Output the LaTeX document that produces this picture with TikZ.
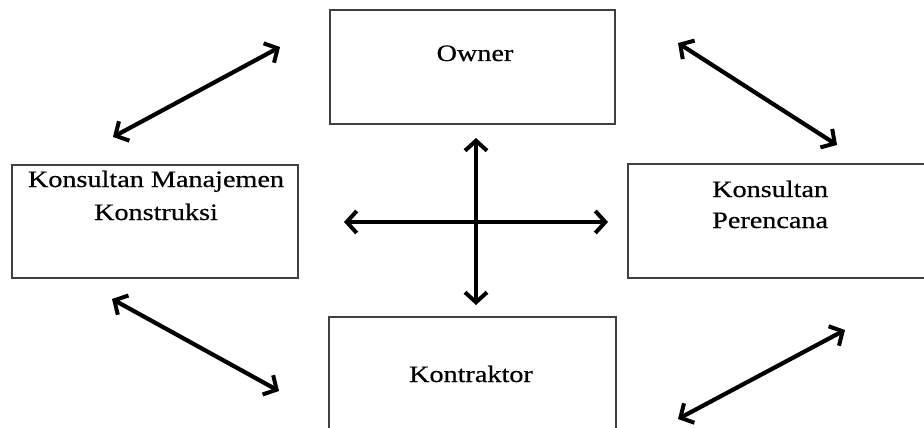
\documentclass[tikz,border=0pt]{standalone}
\usepackage{fontspec}
\setmainfont[FakeStretch=1.2,FakeBold=0.6]{Liberation Serif}
\usetikzlibrary{arrows.meta}
\begin{document}
\begin{tikzpicture}[x=1pt,y=-1pt,
  box/.style={draw=black!75,line width=1.8pt},
  lbl/.style={inner sep=0pt,anchor=base,font=\fontsize{23.5}{31}\selectfont},
  tip/.style={Straight Barb[length=10pt,width=22pt,line width=4pt]},
  dbl/.style={line width=4.2pt,{Straight Barb[length=10pt,width=22pt,line width=4pt]}-{Straight Barb[length=10pt,width=22pt,line width=4pt]}}]
\useasboundingbox (0,0) rectangle (924,428);
\fill[white] (0,0) rectangle (924,428);
% boxes
\draw[box] (330,10) rectangle (615,124);
\draw[box] (12,165) rectangle (298,278);
\draw[box] (628,164) rectangle (930,278);
\draw[box] (329,317) rectangle (616,440);
% labels
\node[lbl] (owner) at (475,61) {Owner};
\node[lbl] (kmk1) at (156,187) {Konsultan Manajemen};
\node[lbl] (kmk2) at (156,220) {Konstruksi};
\node[lbl,anchor=base west] (kp1) at (712,197) {Konsultan};
\node[lbl,anchor=base west] (kp2) at (712,228) {Perencana};
\node[lbl] (kon) at (471,382) {Kontraktor};
% arrow end points
\coordinate (tl1) at (113,137);
\coordinate (tl2) at (280,47);
\coordinate (tr1) at (678,43);
\coordinate (tr2) at (837,145);
\coordinate (bl1) at (112,299);
\coordinate (bl2) at (279,391);
\coordinate (br1) at (678,419);
\coordinate (br2) at (845,330);
\coordinate (vt) at (476,138);
\coordinate (vb) at (476,305);
\coordinate (hl) at (344,222);
\coordinate (hr) at (608,222);
\draw[dbl] (tl1) -- (tl2);
\draw[dbl] (tr1) -- (tr2);
\draw[dbl] (bl1) -- (bl2);
\draw[dbl] (br1) -- (br2);
\draw[dbl] (vt) -- (vb);
\draw[dbl] (hl) -- (hr);
\end{tikzpicture}
\end{document}
